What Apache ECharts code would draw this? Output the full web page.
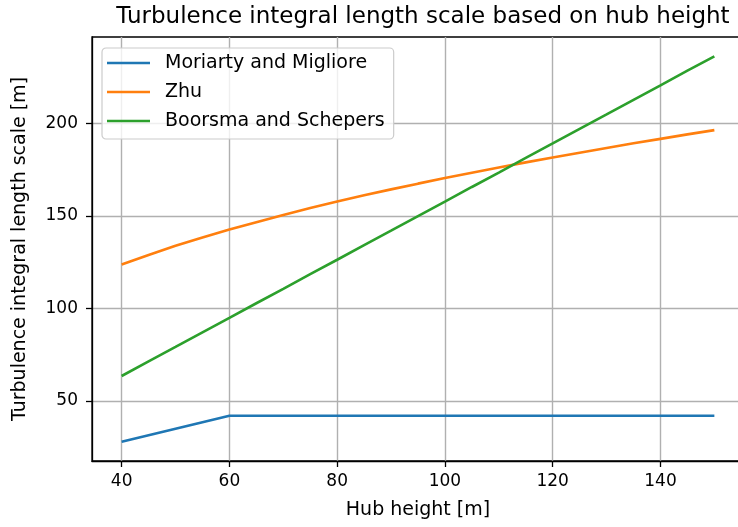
<!DOCTYPE html>
<html>
<head>
<meta charset="utf-8">
<script src="https://cdn.jsdelivr.net/npm/echarts@6/dist/echarts.min.js"></script>
<style>
  html, body { margin: 0; padding: 0; background: #fff; overflow: hidden; }
  /* the figure is a little wider than the window; its right edge falls outside */
  #chart { width: 744px; height: 527px; }
</style>
</head>
<body>
<div id="chart"></div>
<script>
// Hub heights [m]
const hubHeights = [40, 45, 50, 55, 60, 65, 70, 75, 80, 85, 90, 95, 100,
                    105, 110, 115, 120, 125, 130, 135, 140, 145, 150];
// Turbulence integral length scale [m] per model
const moriarty = [28.0, 31.5, 35.0, 38.5, 42.0, 42.0, 42.0, 42.0, 42.0, 42.0, 42.0, 42.0, 42.0,
                  42.0, 42.0, 42.0, 42.0, 42.0, 42.0, 42.0, 42.0, 42.0, 42.0];
const zhu      = [123.7, 128.9, 133.8, 138.3, 142.6, 146.6, 150.5, 154.2, 157.7, 161.1, 164.3, 167.4, 170.4,
                  173.3, 176.1, 178.9, 181.5, 184.1, 186.7, 189.2, 191.6, 194.0, 196.3];
const boorsma  = [63.5, 71.4, 79.2, 87.1, 94.9, 102.8, 110.6, 118.5, 126.3, 134.2, 142.0, 149.9, 157.7,
                  165.6, 173.4, 181.3, 189.1, 197.0, 204.8, 212.7, 220.5, 228.4, 236.2];

const seriesNames = ['Moriarty and Migliore', 'Zhu', 'Boorsma and Schepers'];
const seriesColors = ['#1f77b4', '#ff7f0e', '#2ca02c'];

const xTicks = [40, 60, 80, 100, 120, 140];
const yTicks = [50, 100, 150, 200];

// axis limits with a 5% margin around the data
const allY = moriarty.concat(zhu, boorsma);
const yLo = Math.min(...allY), yHi = Math.max(...allY);
const xLo = Math.min(...hubHeights), xHi = Math.max(...hubHeights);
const yPad = (yHi - yLo) * 0.05, xPad = (xHi - xLo) * 0.05;

const FONT = 'DejaVu Sans';
const pair = arr => hubHeights.map((h, i) => [h, arr[i]]);

const chart = echarts.init(document.getElementById('chart'), null, { renderer: 'canvas' });
chart.setOption({
  backgroundColor: '#fff',
  animation: false,
  textStyle: { fontFamily: FONT },
  title: {
    text: 'Turbulence integral length scale based on hub height',
    left: 418, top: 1, textAlign: 'center',
    textStyle: { fontFamily: FONT, fontSize: 23, fontWeight: 'normal', color: '#000' }
  },
  grid: {
    left: 92, right: 0, top: 37, bottom: 66,
    show: true, borderColor: '#000', borderWidth: 1.3, backgroundColor: 'transparent'
  },
  legend: {
    orient: 'vertical', left: 102, top: 48,
    data: seriesNames,
    icon: 'rect', itemWidth: 43, itemHeight: 2.6, itemGap: 9,
    padding: [5, 9, 8, 5],
    backgroundColor: 'rgba(255,255,255,0.8)',
    borderColor: '#cccccc', borderWidth: 1.2, borderRadius: 4,
    textStyle: { fontFamily: FONT, fontSize: 19, color: '#000', lineHeight: 20, padding: [0, 0, 0, 10] }
  },
  xAxis: {
    type: 'value', min: xLo - xPad, max: xHi + xPad,
    name: 'Hub height [m]', nameLocation: 'middle', nameGap: 40,
    nameTextStyle: { fontFamily: FONT, fontSize: 19, color: '#000' },
    axisLine: { show: true, lineStyle: { color: '#000', width: 1.3 } },
    axisTick: { show: true, length: 6, customValues: xTicks, lineStyle: { color: '#000', width: 1.3 } },
    axisLabel: { customValues: xTicks, margin: 12, fontFamily: FONT, fontSize: 17, color: '#000' },
    splitLine: { show: true, lineStyle: { color: '#b0b0b0', width: 1.4 } }
  },
  yAxis: {
    type: 'value', min: yLo - yPad, max: yHi + yPad,
    name: 'Turbulence integral length scale [m]', nameLocation: 'middle', nameGap: 62, nameRotate: 90,
    nameTextStyle: { fontFamily: FONT, fontSize: 19, color: '#000' },
    axisLine: { show: true, lineStyle: { color: '#000', width: 1.3 } },
    axisTick: { show: true, length: 6, customValues: yTicks, lineStyle: { color: '#000', width: 1.3 } },
    axisLabel: { customValues: yTicks, margin: 14, fontFamily: FONT, fontSize: 17, color: '#000' },
    splitLine: { show: true, lineStyle: { color: '#b0b0b0', width: 1.4 } }
  },
  series: [moriarty, zhu, boorsma].map((arr, i) => ({
    name: seriesNames[i],
    type: 'line',
    data: pair(arr),
    showSymbol: false,
    symbol: 'none',
    color: seriesColors[i],
    lineStyle: { color: seriesColors[i], width: 2.6 },
    emphasis: { disabled: true }
  }))
});
</script>
</body>
</html>
